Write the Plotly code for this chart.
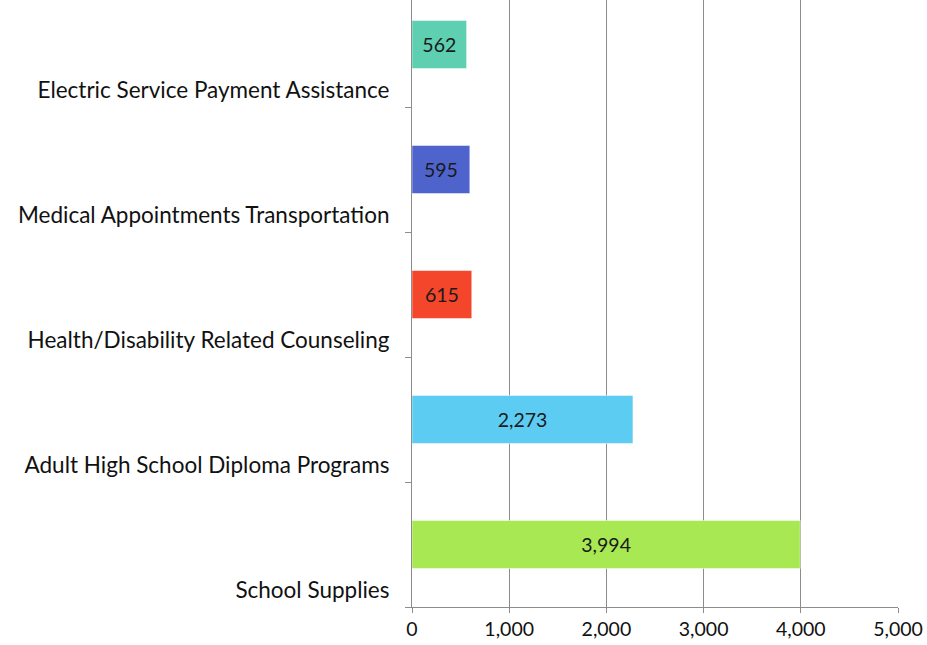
import plotly.graph_objects as go

categories = [
    "School Supplies",
    "Adult High School Diploma Programs",
    "Health/Disability Related Counseling",
    "Medical Appointments Transportation",
    "Electric Service Payment Assistance",
]
values = [3994, 2273, 615, 595, 562]
colors = ["#A8E852", "#5DCCF3", "#F4462A", "#4E64CC", "#5ECFB1"]
x_ticks = [0, 1000, 2000, 3000, 4000, 5000]

positions = list(range(len(categories)))
label_offset = 0.368

fig = go.Figure(
    go.Bar(
        x=values,
        y=positions,
        orientation="h",
        width=0.385,
        marker=dict(color=colors, line=dict(color="rgba(255,255,255,0.5)", width=1)),
        texttemplate="%{x:,}",
        textposition="inside",
        insidetextanchor="middle",
        textfont=dict(family="Lato", size=19.5, color="#1a1a1a"),
        hoverinfo="skip",
    )
)

grid = "#8c8c8c"
fig.update_layout(
    width=927,
    height=645,
    margin=dict(l=412, r=29, t=0, b=38),
    plot_bgcolor="white",
    paper_bgcolor="white",
    showlegend=False,
    font=dict(family="Lato", size=22, color="#111"),
    xaxis=dict(
        range=[0, 5000],
        tickvals=x_ticks,
        tickformat=",",
        showgrid=True,
        gridcolor=grid,
        gridwidth=1,
        zeroline=False,
        showline=True,
        linecolor=grid,
        ticks="outside",
        ticklen=5,
        tickcolor=grid,
        tickfont=dict(size=19.5, color="#111"),
    ),
    yaxis=dict(
        range=[-0.5, 4.356],
        tickvals=[p - label_offset for p in positions],
        ticktext=categories,
        ticks="",
        showgrid=False,
        zeroline=False,
        showline=True,
        linecolor=grid,
        ticklabelstandoff=17,
        minor=dict(
            tickvals=[p + 0.5 for p in positions] + [-0.5],
            ticks="outside",
            ticklen=6,
            tickcolor=grid,
            showgrid=False,
        ),
        tickfont=dict(size=22.5, color="#111"),
    ),
)

fig.write_html(
    "out.html",
    config={"displayModeBar": False},
    post_script="document.body.style.margin='0';",
)
